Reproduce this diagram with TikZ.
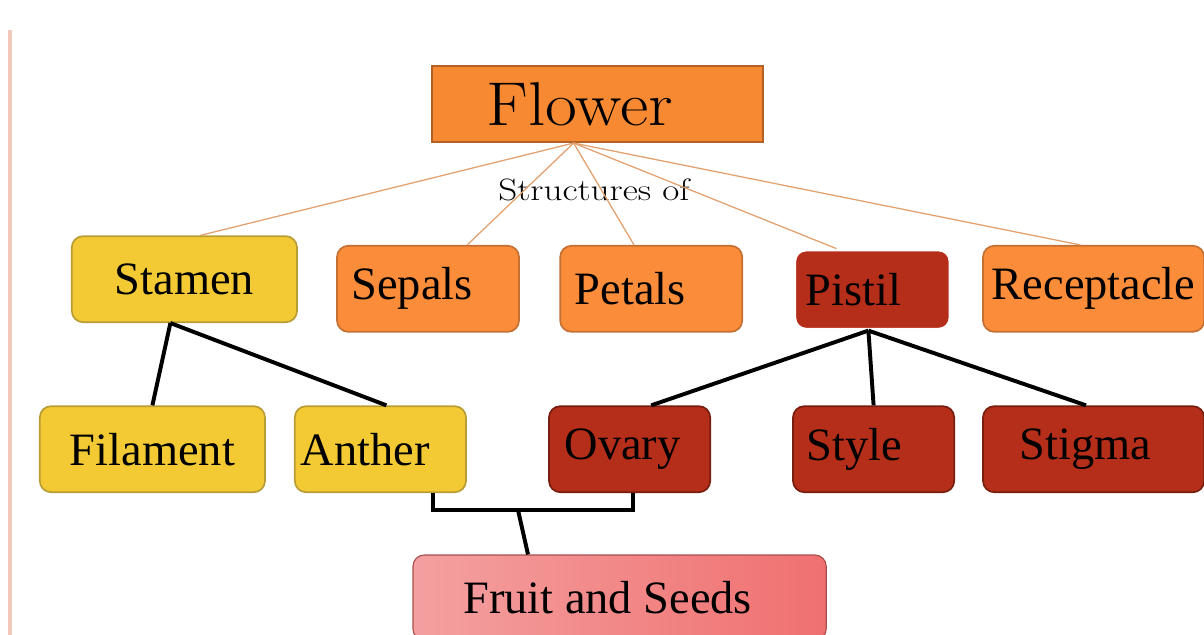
\documentclass[tikz,border=0pt]{standalone}
\usepackage{fontspec}
\newfontfamily\timesfont{Liberation Serif}
\usepackage{graphicx}
\usepackage{xcolor}
\definecolor{floweror}{RGB}{247,137,50}
\definecolor{florborder}{RGB}{176,98,38}
\definecolor{partor}{RGB}{250,140,58}
\definecolor{partorborder}{RGB}{196,112,50}
\definecolor{stamenyel}{RGB}{243,202,52}
\definecolor{stamenborder}{RGB}{184,156,52}
\definecolor{pistilred}{RGB}{181,46,26}
\definecolor{pistilborder}{RGB}{120,30,14}
\definecolor{fruitlight}{RGB}{250,205,205}
\definecolor{fruitside}{RGB}{244,160,160}
\definecolor{fruitdark}{RGB}{240,112,112}
\definecolor{stalkcol}{RGB}{226,160,110}
\definecolor{marginpink}{RGB}{242,200,186}
\usepackage{tikz}
\usetikzlibrary{positioning, calc, shadows}
\tikzset{
  rootbox/.style={
    rectangle, draw=florborder, fill=floweror, line width=1.5pt,
    minimum width=8.28cm, minimum height=1.9cm,
    text centered, font=\fontsize{44}{48}\selectfont
  },
  partbox/.style={
    rectangle, rounded corners=8pt, inner sep=2pt,
    minimum height=2.15cm, line width=1.2pt,
    text centered, font=\timesfont\fontsize{33}{36}\selectfont
  },
  whorl/.style={partbox, draw=partorborder, fill=partor},
  male/.style={partbox, draw=stamenborder, fill=stamenyel},
  female/.style={partbox, draw=pistilborder, fill=pistilred},
  fruitbox/.style={
    partbox, draw=fruitdark!70!black, line width=0.8pt,
    left color=fruitside, middle color=fruitlight, right color=fruitdark
  },
  nudge/.style={execute at begin node={\hspace*{#1}}},
  stalk/.style={line width=0.9pt, color=stalkcol},
  branch/.style={line width=2.8pt, color=black},
}

\begin{document}
\begin{tikzpicture}
  \useasboundingbox (0,0) rectangle (30.1,-15.875);
  \draw [line width=2.5pt, color=marginpink] (0.25,-0.75) -- (0.25,-15.875);

  \node (flower)   [rootbox, nudge=-0.9cm] at (14.94,-2.6) {\scalebox{1.12}[1]{Flower}};
  \node (struct)   [font=\fontsize{22}{24}\selectfont] at (14.85,-4.75) {\scalebox{1.2}[1]{Structures of}};

  \node (stamen)   [male,   minimum width=5.63cm] at (4.61,-6.98)  {Stamen};
  \node (sepals)   [whorl,  minimum width=4.55cm, nudge=-0.8cm] at (10.7,-7.22)  {Sepals};
  \node (petals)   [whorl,  minimum width=4.55cm, nudge=-1.05cm] at (16.28,-7.22) {Petals};
  \node (pistil)   [female, minimum width=3.88cm, minimum height=1.98cm, nudge=-0.95cm,
                    draw=white, line width=2pt,
                    drop shadow={opacity=0.25, shadow xshift=0.6pt, shadow yshift=-0.8pt}]
                    at (21.81,-7.24) {Pistil};
  \node (recept)   [whorl,  minimum width=5.53cm] at (27.34,-7.22) {Receptacle};

  \node (filament) [male,   minimum width=5.63cm] at (3.81,-11.23)  {Filament};
  \node (anther)   [male,   minimum width=4.28cm, nudge=-0.75cm] at (9.51,-11.23)  {Anther};
  \node (ovary)    [female, minimum width=4.03cm, nudge=-0.35cm] at (15.74,-11.23) {Ovary};
  \node (style)    [female, minimum width=4.03cm, nudge=-0.95cm] at (21.84,-11.23) {Style};
  \node (stigma)   [female, minimum width=5.53cm, nudge=-0.4cm] at (27.34,-11.23) {Stigma};

  \node (fruit)    [fruitbox, minimum width=10.33cm, minimum height=2.13cm, nudge=-0.6cm]
                    at (15.49,-14.94) {Fruit and Seeds};

  % flower to its parts
  \coordinate (hub) at ([xshift=-0.6cm]flower.south);
  \draw [stalk] (hub) -- ([xshift=0.4cm]stamen.north);
  \draw [stalk] (hub) -- ([xshift=0.98cm]sepals.north);
  \draw [stalk] (hub) -- ([xshift=-0.43cm]petals.north);
  \draw [stalk] (hub) -- ([xshift=-0.9cm]pistil.north);
  \draw [stalk] (hub) -- ([xshift=-0.33cm]recept.north);

  % stamen and pistil parts
  \draw [branch] ([xshift=-0.35cm]stamen.south) -- (filament.north);
  \draw [branch] ([xshift=-0.35cm]stamen.south) -- ([xshift=0.15cm]anther.north);
  \draw [branch] ([xshift=-0.1cm]pistil.south) -- ([xshift=0.54cm]ovary.north);
  \draw [branch] ([xshift=-0.1cm]pistil.south) -- (style.north);
  \draw [branch] ([xshift=-0.1cm]pistil.south) -- ([xshift=-0.19cm]stigma.north);

  % fruit
  \coordinate (join) at (12.95,-12.75);
  \draw [branch] ([xshift=1.31cm]anther.south) |- (join) -| ([xshift=0.09cm]ovary.south);
  \draw [branch] (join) -- ([xshift=-2.29cm]fruit.north);
\end{tikzpicture}
\end{document}
